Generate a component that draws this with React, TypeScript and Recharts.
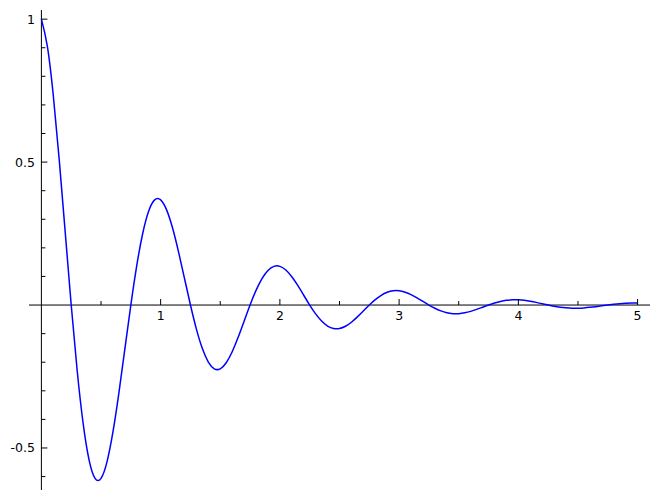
import React from 'react';
import { LineChart, Line, XAxis, YAxis, ReferenceLine, ReferenceDot } from 'recharts';

const xs = [
  0, 0.05, 0.1, 0.15, 0.2, 0.25, 0.3, 0.35, 0.4, 0.45,
  0.5, 0.55, 0.6, 0.65, 0.7, 0.75, 0.8, 0.85, 0.9, 0.95,
  1, 1.05, 1.1, 1.15, 1.2, 1.25, 1.3, 1.35, 1.4, 1.45,
  1.5, 1.55, 1.6, 1.65, 1.7, 1.75, 1.8, 1.85, 1.9, 1.95,
  2, 2.05, 2.1, 2.15, 2.2, 2.25, 2.3, 2.35, 2.4, 2.45,
  2.5, 2.55, 2.6, 2.65, 2.7, 2.75, 2.8, 2.85, 2.9, 2.95,
  3, 3.05, 3.1, 3.15, 3.2, 3.25, 3.3, 3.35, 3.4, 3.45,
  3.5, 3.55, 3.6, 3.65, 3.7, 3.75, 3.8, 3.85, 3.9, 3.95,
  4, 4.05, 4.1, 4.15, 4.2, 4.25, 4.3, 4.35, 4.4, 4.45,
  4.5, 4.55, 4.6, 4.65, 4.7, 4.75, 4.8, 4.85, 4.9, 4.95,
  5,
];

const ys = [
  1, 0.9047, 0.732, 0.5059, 0.253, 0, -0.2289, -0.4142, -0.5423, -0.6064,
  -0.6065, -0.5487, -0.444, -0.3069, -0.1535, 0, 0.1389, 0.2512, 0.3289, 0.3678,
  0.3679, 0.3328, 0.2693, 0.1861, 0.0931, 0, -0.0842, -0.1524, -0.1995, -0.2231,
  -0.2231, -0.2019, -0.1633, -0.1129, -0.0565, 0, 0.0511, 0.0924, 0.121, 0.1353,
  0.1353, 0.1224, 0.0991, 0.0685, 0.0342, 0, -0.031, -0.0561, -0.0734, -0.0821,
  -0.0821, -0.0743, -0.0601, -0.0415, -0.0208, 0, 0.0188, 0.034, 0.0445, 0.0498,
  0.0498, 0.045, 0.0365, 0.0252, 0.0126, 0, -0.0114, -0.0206, -0.027, -0.0302,
  -0.0302, -0.0273, -0.0221, -0.0153, -0.0076, 0, 0.0069, 0.0125, 0.0164, 0.0183,
  0.0183, 0.0166, 0.0134, 0.0093, 0.0046, 0, -0.0042, -0.0076, -0.0099, -0.0111,
  -0.0111, -0.0101, -0.0081, -0.0056, -0.0028, 0, 0.0025, 0.0046, 0.006, 0.0067,
  0.0067,
];

const xMajorTicks = [1, 2, 3, 4, 5];
const xMinorTicks = [0.5, 1.5, 2.5, 3.5, 4.5];
const yMajorTicks = [-0.5, 0.5, 1];
const yMajorLabels = ['-0.5', '0.5', '1'];
const yMinorTicks = [-0.6, -0.4, -0.3, -0.2, -0.1, 0.1, 0.2, 0.3, 0.4, 0.6, 0.7, 0.8, 0.9];

const xDomain: [number, number] = [-0.104, 5.104];
const yDomain: [number, number] = [-0.647, 1.032];

const data = xs.map((x, i) => ({ x, y: ys[i] }));

const FONT = 'DejaVu Sans, sans-serif';
const FONT_SIZE = 12.5;

const xTickShape = (label: string | null, len: number) => (p: any) => (
  <g>
    <line x1={p.cx} y1={p.cy} x2={p.cx} y2={p.cy - len} stroke="#000" strokeWidth={1} />
    {label !== null && (
      <text x={p.cx} y={p.cy + 15.2} textAnchor="middle" fontFamily={FONT} fontSize={FONT_SIZE} fill="#000">
        {label}
      </text>
    )}
  </g>
);

const yTickShape = (label: string | null, len: number) => (p: any) => (
  <g>
    <line x1={p.cx} y1={p.cy} x2={p.cx + len} y2={p.cy} stroke="#000" strokeWidth={1} />
    {label !== null && (
      <text x={p.cx - 6.5} y={p.cy + 4.5} textAnchor="end" fontFamily={FONT} fontSize={FONT_SIZE} fill="#000">
        {label}
      </text>
    )}
  </g>
);

export default function App() {
  return (
    <div style={{ position: 'absolute', left: 0, top: 0, width: 658, height: 500, background: '#fff' }}>
      <LineChart width={658} height={500} data={data} margin={{ top: 10, right: 8, bottom: 10, left: 29 }}>
        <XAxis dataKey="x" type="number" domain={xDomain} allowDataOverflow hide />
        <YAxis type="number" domain={yDomain} allowDataOverflow hide />
        <ReferenceLine x={0} stroke="#000" strokeWidth={1} />
        <ReferenceLine y={0} stroke="#000" strokeWidth={1} />
        {xMajorTicks.map((v) => (
          <ReferenceDot key={'xM' + v} x={v} y={0} r={0} shape={xTickShape(String(v), 6)} />
        ))}
        {xMinorTicks.map((v) => (
          <ReferenceDot key={'xm' + v} x={v} y={0} r={0} shape={xTickShape(null, 4)} />
        ))}
        {yMajorTicks.map((v, i) => (
          <ReferenceDot key={'yM' + v} x={0} y={v} r={0} shape={yTickShape(yMajorLabels[i], 6)} />
        ))}
        {yMinorTicks.map((v) => (
          <ReferenceDot key={'ym' + v} x={0} y={v} r={0} shape={yTickShape(null, 4)} />
        ))}
        <Line
          type="natural"
          dataKey="y"
          stroke="#0000ff"
          strokeWidth={1.5}
          dot={false}
          activeDot={false}
          isAnimationActive={false}
        />
      </LineChart>
    </div>
  );
}
